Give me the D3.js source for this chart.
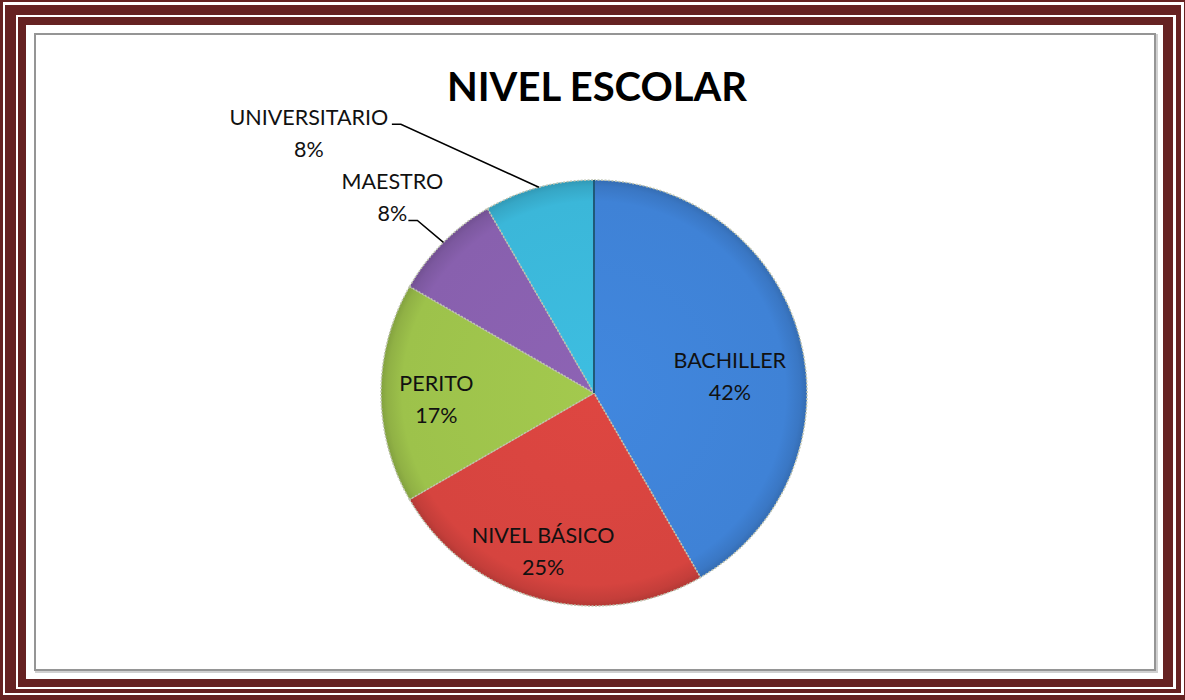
<!DOCTYPE html>
<html>
<head>
<meta charset="utf-8">
<script src="https://cdn.jsdelivr.net/npm/d3@7"></script>
<style>
  body { margin: 0; background: #fff; }
  text { font-family: Lato, "Open Sans", sans-serif; }
</style>
</head>
<body>
<div id="chart"></div>
<script>
const width = 1185;
const height = 700;

// datos
const categories = ["BACHILLER", "NIVEL BÁSICO", "PERITO", "MAESTRO", "UNIVERSITARIO"];
const values = [5, 3, 2, 1, 1];
const colors = ["#3f82d6", "#d6443f", "#9dc24b", "#8860ae", "#3bb7d9"];
const titleText = "NIVEL ESCOLAR";

const svg = d3
  .select("div#chart")
  .append("svg")
  .attr("width", width)
  .attr("height", height);

// marco doble granate
const frame = [
  { x: 0, y: 0, w: 1185, h: 700, fill: "#662222" },
  { x: 3, y: 2, w: 1181, h: 693, fill: "#ffffff" },
  { x: 5, y: 5, w: 1176, h: 688, fill: "#662222" },
  { x: 16, y: 15, w: 1160, h: 674, fill: "#ffffff" },
  { x: 18, y: 17, w: 1155, h: 670, fill: "#662222" },
  { x: 26, y: 25, w: 1137, h: 654, fill: "#ffffff" },
];
svg
  .selectAll("rect.frame")
  .data(frame)
  .enter()
  .append("rect")
  .attr("class", "frame")
  .attr("x", (d) => d.x)
  .attr("y", (d) => d.y)
  .attr("width", (d) => d.w)
  .attr("height", (d) => d.h)
  .attr("fill", (d) => d.fill);

// borde del area del grafico
svg
  .append("rect")
  .attr("x", 36)
  .attr("y", 35)
  .attr("width", 1121)
  .attr("height", 637)
  .attr("fill", "none")
  .attr("stroke", "#d0d0d0")
  .attr("stroke-width", 2);
svg
  .append("rect")
  .attr("x", 35)
  .attr("y", 34)
  .attr("width", 1120)
  .attr("height", 636)
  .attr("fill", "#fff")
  .attr("stroke", "#959595")
  .attr("stroke-width", 2);

svg
  .append("text")
  .attr("x", 597)
  .attr("y", 101)
  .attr("text-anchor", "middle")
  .attr("font-size", 40)
  .attr("font-weight", "bold")
  .attr("fill", "#000")
  .text(titleText);

const cx = 594;
const cy = 393;
const radius = 213;

const pie = d3.pie().sort(null).value((d) => d);
const arcs = pie(values);
const arc = d3.arc().innerRadius(0).outerRadius(radius);

const defs = svg.append("defs");
colors.forEach((c, i) => {
  const g = defs
    .append("radialGradient")
    .attr("id", "grad" + i)
    .attr("gradientUnits", "userSpaceOnUse")
    .attr("cx", 0)
    .attr("cy", 0)
    .attr("r", radius);
  const base = d3.color(c);
  g.append("stop").attr("offset", "0%").attr("stop-color", base.brighter(0.1));
  g.append("stop").attr("offset", "90%").attr("stop-color", base);
  g.append("stop").attr("offset", "97%").attr("stop-color", base.darker(0.25));
  g.append("stop").attr("offset", "100%").attr("stop-color", base.darker(0.5));
});

const pieGroup = svg.append("g").attr("transform", `translate(${cx}, ${cy})`);

pieGroup
  .selectAll("path")
  .data(arcs)
  .enter()
  .append("path")
  .attr("d", arc)
  .attr("fill", (d, i) => `url(#grad${i})`)
  .attr("stroke", "#bfc4b0")
  .attr("stroke-width", 1.5)
  .attr("stroke-dasharray", "2,1.5");

// linea oscura entre universitario y bachiller
pieGroup
  .append("line")
  .attr("x1", 0)
  .attr("y1", 0)
  .attr("x2", 0)
  .attr("y2", -radius)
  .attr("stroke", "#1f5a78")
  .attr("stroke-width", 2);

// etiquetas interiores
const inner = [0, 1, 2];
const labelR = [0.66, 0.76, 0.74];
const labelShift = [[0, 17], [-9, 0], [0, 4]];
const labelGroup = pieGroup.append("g").attr("font-size", 21.5).attr("fill", "#111");
inner.forEach((i, k) => {
  const a = (arcs[i].startAngle + arcs[i].endAngle) / 2;
  const r = radius * labelR[k];
  const x = Math.sin(a) * r + labelShift[k][0];
  const y = -Math.cos(a) * r + labelShift[k][1];
  const pct = Math.round((values[i] / d3.sum(values)) * 100) + "%";
  const t = labelGroup.append("text").attr("text-anchor", "middle");
  t.append("tspan").attr("x", x).attr("y", y - 6).text(categories[i]);
  t.append("tspan").attr("x", x).attr("y", y + 26).text(pct);
});

// etiquetas exteriores con linea guia
const outer = [
  { i: 4, dx: -138, dy: -63, tx: -230, ty: -62 },
  { i: 3, dx: -26, dy: -22, tx: -51, ty: -53 },
];
outer.forEach((o) => {
  const a = (arcs[o.i].startAngle + arcs[o.i].endAngle) / 2;
  const ex = Math.sin(a) * radius;
  const ey = -Math.cos(a) * radius;
  pieGroup
    .append("polyline")
    .attr("points", `${ex},${ey} ${ex + o.dx},${ey + o.dy} ${ex + o.dx - 9},${ey + o.dy}`)
    .attr("fill", "none")
    .attr("stroke", "#000")
    .attr("stroke-width", 1.5);
  const pct = Math.round((values[o.i] / d3.sum(values)) * 100) + "%";
  const t = labelGroup.append("text").attr("text-anchor", "middle");
  t.append("tspan").attr("x", ex + o.tx).attr("y", ey + o.ty).text(categories[o.i]);
  t.append("tspan").attr("x", ex + o.tx).attr("y", ey + o.ty + 32).text(pct);
});
</script>
</body>
</html>
